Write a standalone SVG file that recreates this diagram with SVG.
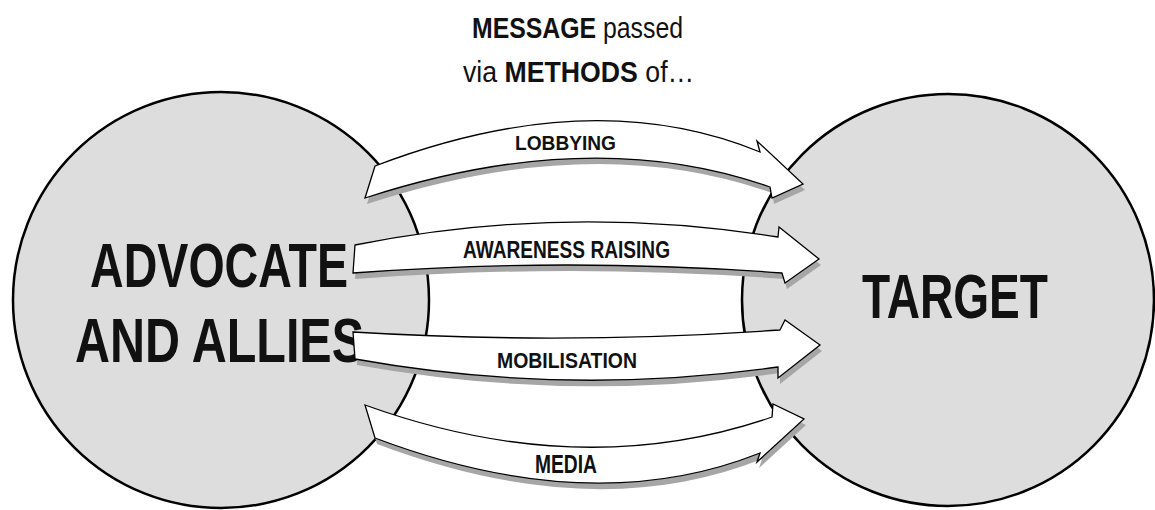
<svg xmlns="http://www.w3.org/2000/svg" width="1155" height="510" viewBox="0 0 1155 510">
<defs>
<style>
.circle{fill:#dddddd;stroke:#000;stroke-width:2.5}
.arrow{fill:#fff;stroke:#000;stroke-width:1.3;stroke-linejoin:miter}
.shadow{fill:#a6a6a6;stroke:none}
.big{font-family:"Liberation Sans",Arial,sans-serif;font-weight:bold;font-size:63px;fill:#111}
.lbl{font-family:"Liberation Sans",Arial,sans-serif;font-weight:bold;fill:#111}
.top{font-family:"Liberation Sans",Arial,sans-serif;font-size:29px;fill:#111}
.b{font-weight:bold}
</style>
</defs>
<rect width="1155" height="510" fill="#fff"/>
<g id="advocate">
<circle class="circle" cx="221" cy="300" r="208"/>
<text class="big" x="90" y="287" textLength="258" lengthAdjust="spacingAndGlyphs">ADVOCATE</text>
<text class="big" x="75" y="362" textLength="289" lengthAdjust="spacingAndGlyphs">AND ALLIES</text>
</g>
<g id="target">
<circle class="circle" cx="948" cy="300" r="206"/>
<text class="big" x="862" y="318" textLength="186" lengthAdjust="spacingAndGlyphs">TARGET</text>
</g>
<g id="message">
<text class="top" transform="translate(472,38) scale(0.856,1)" x="0" y="0"><tspan class="b">MESSAGE</tspan> passed</text>
<text class="top" transform="translate(463,82) scale(0.92,1)" x="0" y="0">via <tspan class="b">METHODS</tspan> of…</text>
</g>
<g id="connectors">
<g id="lobbying">
<path class="shadow" transform="translate(2,6)" d="M375,166 Q592,83 760,152 L757,141 L803,184 L772,198 L770,187 Q592,124 365,198 Z"/>
<path class="arrow" d="M375,166 Q592,83 760,152 L757,141 L803,184 L772,198 L770,187 Q592,124 365,198 Z"/>
<text class="lbl" x="515" y="150" font-size="21" textLength="101" lengthAdjust="spacingAndGlyphs">LOBBYING</text>
</g>
<g id="awareness">
<path class="shadow" transform="translate(2,6)" d="M355,245 Q566,203 778,237 L779,227 L819,259 L785,283 L782,273 Q567,257 353,273 Z"/>
<path class="arrow" d="M355,245 Q566,203 778,237 L779,227 L819,259 L785,283 L782,273 Q567,257 353,273 Z"/>
<text class="lbl" x="463" y="258" font-size="24" textLength="207" lengthAdjust="spacingAndGlyphs">AWARENESS RAISING</text>
</g>
<g id="mobilisation">
<path class="shadow" transform="translate(2,6)" d="M353,332 Q567,345 780,330 L785,320 L820,345 L778,378 L778,367 Q567,397 355,359 Z"/>
<path class="arrow" d="M353,332 Q567,345 780,330 L785,320 L820,345 L778,378 L778,367 Q567,397 355,359 Z"/>
<text class="lbl" x="497" y="368" font-size="22" textLength="140" lengthAdjust="spacingAndGlyphs">MOBILISATION</text>
</g>
<g id="media">
<path class="shadow" transform="translate(2,6)" d="M365,405 Q581,483 772,417 L773,404 L804,419 L757,462 L760,453 Q592,520 375,438 Z"/>
<path class="arrow" d="M365,405 Q581,483 772,417 L773,404 L804,419 L757,462 L760,453 Q592,520 375,438 Z"/>
<text class="lbl" x="535" y="473" font-size="25" textLength="62" lengthAdjust="spacingAndGlyphs">MEDIA</text>
</g>
</g>
</svg>
